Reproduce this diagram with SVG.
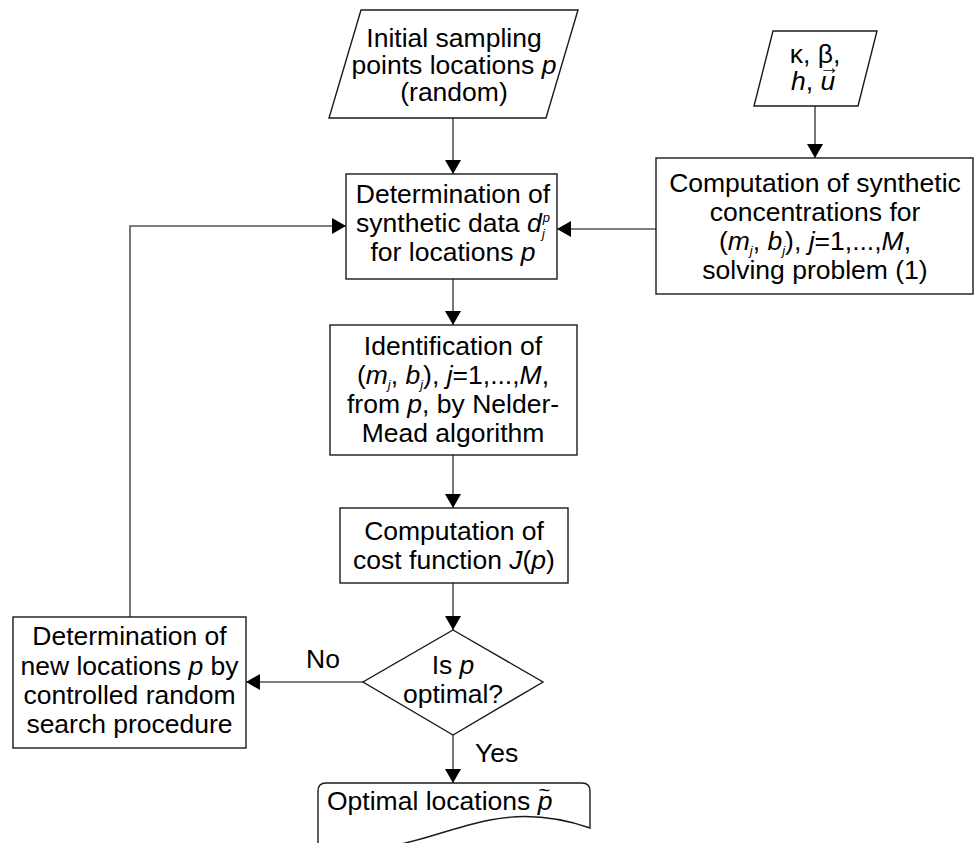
<svg xmlns="http://www.w3.org/2000/svg" width="974" height="843" viewBox="0 0 974 843">
<defs>
<style>
.shape{fill:#fff;stroke:#1a1a1a;stroke-width:1.4}
.conn{fill:none;stroke:#555;stroke-width:1.6}
text{font-family:"Liberation Sans",Arial,sans-serif;font-size:26.5px;fill:#000}
.c{text-anchor:middle}
.i{font-style:italic}
.s{font-size:13px}
</style>
<marker id="ah" markerUnits="userSpaceOnUse" markerWidth="14" markerHeight="16" viewBox="0 0 14 16" refX="14" refY="8" orient="auto">
<path d="M0,0 L14,8 L0,16 z" fill="#000"/>
</marker>
</defs>
<rect width="974" height="843" fill="#fff"/>
<g id="connectors">
<line class="conn" x1="453" y1="118" x2="453" y2="174" marker-end="url(#ah)"/>
<line class="conn" x1="815" y1="106" x2="815" y2="158" marker-end="url(#ah)"/>
<line class="conn" x1="656" y1="229" x2="557" y2="229" marker-end="url(#ah)"/>
<polyline class="conn" points="130,617 130,226 346,226" marker-end="url(#ah)"/>
<line class="conn" x1="453" y1="279" x2="453" y2="325" marker-end="url(#ah)"/>
<line class="conn" x1="453" y1="455" x2="453" y2="508" marker-end="url(#ah)"/>
<line class="conn" x1="453" y1="583" x2="453" y2="630" marker-end="url(#ah)"/>
<line class="conn" x1="363" y1="682" x2="246" y2="682" marker-end="url(#ah)"/>
<line class="conn" x1="453" y1="735" x2="453" y2="783" marker-end="url(#ah)"/>
<text x="323" y="668" class="c">No</text>
<text x="475" y="762">Yes</text>
</g>
<g id="n-initial">
<polygon class="shape" points="361,10 578,10 546,118 329,118"/>
<text x="454" y="47" class="c">Initial sampling</text>
<text x="454" y="74" class="c">points locations <tspan class="i">p</tspan></text>
<text x="454" y="101" class="c">(random)</text>
</g>
<g id="n-params">
<polygon class="shape" points="773,31 877,31 858,106 754,106"/>
<text x="815" y="63" class="c">κ, β,</text>
<text x="791" y="90"><tspan class="i">h</tspan>, <tspan class="i">u</tspan><tspan dx="-16" dy="-16" style="font-size:20px;font-weight:bold">→</tspan></text>
</g>
<g id="n-synthconc">
<rect class="shape" x="656" y="158" width="317" height="136"/>
<text x="815" y="192" class="c">Computation of synthetic</text>
<text x="815" y="221" class="c">concentrations for</text>
<text x="815" y="250" class="c">(<tspan class="i">m</tspan><tspan class="i s" dy="5">j</tspan><tspan dy="-5">, </tspan><tspan class="i">b</tspan><tspan class="i s" dy="5">j</tspan><tspan dy="-5">), </tspan><tspan class="i">j</tspan>=1,...,<tspan class="i">M</tspan>,</text>
<text x="815" y="279" class="c">solving problem (1)</text>
</g>
<g id="n-determination">
<rect class="shape" x="346" y="174" width="211" height="105"/>
<text x="453" y="203" class="c">Determination of</text>
<text x="453" y="232" class="c">synthetic data <tspan class="i">d</tspan><tspan class="i s" dx="1" dy="-10">p</tspan><tspan class="i s" dx="-8" dy="16">j</tspan><tspan dy="-6"> </tspan></text>
<text x="453" y="261" class="c">for locations <tspan class="i">p</tspan></text>
</g>
<g id="n-identification">
<rect class="shape" x="330" y="325" width="247" height="130"/>
<text x="453" y="355" class="c">Identification of</text>
<text x="453" y="384" class="c">(<tspan class="i">m</tspan><tspan class="i s" dy="5">j</tspan><tspan dy="-5">, </tspan><tspan class="i">b</tspan><tspan class="i s" dy="5">j</tspan><tspan dy="-5">), </tspan><tspan class="i">j</tspan>=1,...,<tspan class="i">M</tspan>,</text>
<text x="453" y="413" class="c">from <tspan class="i">p</tspan>, by Nelder-</text>
<text x="453" y="442" class="c">Mead algorithm</text>
</g>
<g id="n-cost">
<rect class="shape" x="340" y="508" width="228" height="75"/>
<text x="454" y="540" class="c">Computation of</text>
<text x="454" y="569" class="c">cost function <tspan class="i">J</tspan>(<tspan class="i">p</tspan>)</text>
</g>
<g id="n-decision">
<polygon class="shape" points="453,630 543,682 453,735 363,682"/>
<text x="453" y="674" class="c">Is <tspan class="i">p</tspan></text>
<text x="453" y="703" class="c">optimal?</text>
</g>
<g id="n-newloc">
<rect class="shape" x="13" y="617" width="233" height="131"/>
<text x="129.5" y="645" class="c">Determination of</text>
<text x="129.5" y="675" class="c">new locations <tspan class="i">p</tspan> by</text>
<text x="129.5" y="704" class="c">controlled random</text>
<text x="129.5" y="733" class="c">search procedure</text>
</g>
<g id="n-optimal">
<path class="shape" d="M318,850 L318,791 Q318,783 326,783 L582,783 Q590,783 590,791 L590,828 C555,816 520,814 490,820 C450,828 420,842 390,846 C360,850 335,849 318,848 Z"/>
<text x="327" y="810">Optimal locations <tspan class="i">p</tspan><tspan dx="-14" dy="-13" style="font-size:20px">~</tspan></text>
</g>
</svg>
